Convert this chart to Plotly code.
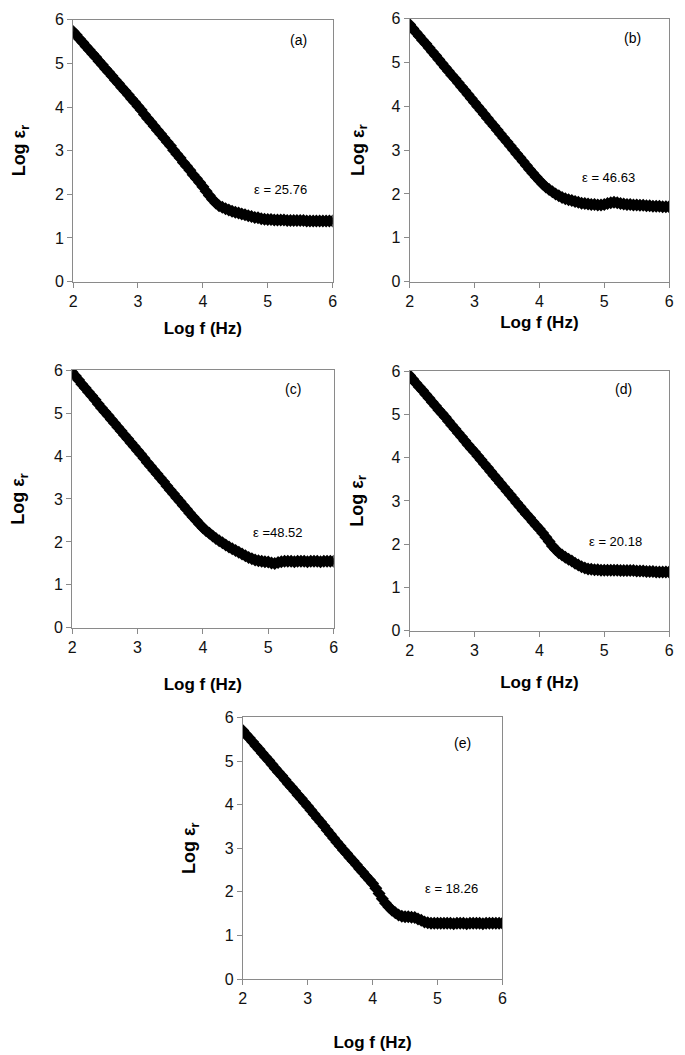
import plotly.graph_objects as go

W, H = 685, 1055

log_f = [round(2 + 0.05 * i, 2) for i in range(81)]

eps_a = [5.73, 5.65, 5.56, 5.48, 5.39, 5.31, 5.22, 5.14, 5.05, 4.97,
         4.88, 4.80, 4.71, 4.62, 4.54, 4.45, 4.37, 4.28, 4.19, 4.11,
         4.02, 3.93, 3.83, 3.74, 3.65, 3.56, 3.47, 3.38, 3.29, 3.20,
         3.11, 3.01, 2.92, 2.83, 2.73, 2.64, 2.55, 2.45, 2.36, 2.27,
         2.17, 2.07, 1.97, 1.88, 1.80, 1.74, 1.70, 1.67, 1.64, 1.61,
         1.59, 1.57, 1.55, 1.53, 1.51, 1.49, 1.47, 1.46, 1.44, 1.43,
         1.42, 1.42, 1.41, 1.41, 1.41, 1.41, 1.40, 1.40, 1.40, 1.40,
         1.40, 1.40, 1.39, 1.39, 1.39, 1.39, 1.39, 1.39, 1.39, 1.39, 1.39]

eps_b = [5.87, 5.78, 5.69, 5.60, 5.51, 5.43, 5.34, 5.25, 5.16, 5.07,
         4.98, 4.89, 4.80, 4.71, 4.63, 4.54, 4.45, 4.36, 4.27, 4.18,
         4.09, 4.00, 3.91, 3.82, 3.73, 3.64, 3.55, 3.46, 3.37, 3.28,
         3.19, 3.10, 3.01, 2.92, 2.83, 2.74, 2.65, 2.56, 2.47, 2.39,
         2.31, 2.23, 2.16, 2.10, 2.05, 2.00, 1.96, 1.92, 1.89, 1.87,
         1.85, 1.83, 1.81, 1.79, 1.78, 1.77, 1.76, 1.76, 1.75, 1.75,
         1.76, 1.78, 1.80, 1.81, 1.80, 1.78, 1.77, 1.76, 1.76, 1.75,
         1.75, 1.74, 1.74, 1.73, 1.73, 1.72, 1.72, 1.72, 1.71, 1.71, 1.71]

eps_c = [5.95, 5.86, 5.77, 5.67, 5.58, 5.49, 5.40, 5.31, 5.21, 5.12,
         5.03, 4.94, 4.85, 4.76, 4.67, 4.58, 4.49, 4.40, 4.31, 4.22,
         4.13, 4.04, 3.95, 3.85, 3.76, 3.67, 3.58, 3.49, 3.40, 3.30,
         3.21, 3.12, 3.03, 2.94, 2.85, 2.76, 2.67, 2.58, 2.50, 2.41,
         2.33, 2.26, 2.20, 2.14, 2.08, 2.03, 1.98, 1.93, 1.88, 1.84,
         1.80, 1.76, 1.72, 1.68, 1.64, 1.61, 1.58, 1.56, 1.55, 1.54,
         1.53, 1.51, 1.50, 1.52, 1.54, 1.55, 1.55, 1.55, 1.54, 1.55,
         1.55, 1.55, 1.54, 1.55, 1.55, 1.55, 1.54, 1.55, 1.55, 1.55, 1.55]

eps_d = [5.90, 5.81, 5.72, 5.63, 5.55, 5.46, 5.37, 5.28, 5.19, 5.10,
         5.02, 4.93, 4.84, 4.75, 4.66, 4.57, 4.48, 4.39, 4.30, 4.21,
         4.13, 4.04, 3.95, 3.86, 3.77, 3.68, 3.59, 3.50, 3.41, 3.32,
         3.23, 3.14, 3.05, 2.96, 2.87, 2.78, 2.69, 2.61, 2.52, 2.43,
         2.35, 2.26, 2.16, 2.06, 1.96, 1.88, 1.80, 1.75, 1.70, 1.65,
         1.61, 1.56, 1.52, 1.48, 1.45, 1.43, 1.42, 1.41, 1.41, 1.40,
         1.40, 1.40, 1.40, 1.40, 1.40, 1.39, 1.39, 1.39, 1.39, 1.39,
         1.38, 1.38, 1.38, 1.37, 1.37, 1.37, 1.36, 1.36, 1.36, 1.36, 1.36]

eps_e = [5.70, 5.61, 5.53, 5.44, 5.35, 5.27, 5.18, 5.09, 5.01, 4.92,
         4.83, 4.74, 4.66, 4.57, 4.48, 4.40, 4.31, 4.22, 4.14, 4.05,
         3.96, 3.87, 3.78, 3.69, 3.60, 3.51, 3.41, 3.32, 3.23, 3.14,
         3.05, 2.96, 2.88, 2.79, 2.71, 2.62, 2.53, 2.45, 2.36, 2.28,
         2.19, 2.08, 1.96, 1.84, 1.74, 1.65, 1.58, 1.52, 1.47, 1.44,
         1.43, 1.43, 1.42, 1.41, 1.38, 1.35, 1.31, 1.29, 1.28, 1.28,
         1.28, 1.28, 1.28, 1.28, 1.28, 1.27, 1.28, 1.28, 1.28, 1.27,
         1.28, 1.28, 1.28, 1.28, 1.27, 1.28, 1.28, 1.28, 1.28, 1.28, 1.28]

panel_labels = ["(a)", "(b)", "(c)", "(d)", "(e)"]
eps_labels = ["\u03b5 = 25.76", "\u03b5 = 46.63", "\u03b5 =48.52", "\u03b5 = 20.18", "\u03b5 = 18.26"]
x_ticks = [2, 3, 4, 5, 6]
y_ticks = [0, 1, 2, 3, 4, 5, 6]

series = [eps_a, eps_b, eps_c, eps_d, eps_e]

# pixel boxes of plot areas: (left, right, top, bottom)
boxes = [(70, 333, 12, 278), (411, 674, 11, 278), (69, 334, 368, 630),
         (411, 674, 369, 633), (242, 505, 721, 987)]
label_pos = [(5.47, 5.53), (5.44, 5.57), (5.38, 5.56), (5.30, 5.59), (5.39, 5.41)]
eps_pos = [(5.19, 2.10), (5.07, 2.38), (5.15, 2.22), (5.18, 2.07), (5.21, 2.08)]
x_standoff = [13, 7, 23, 18, 29]
y_standoff = [24, 22, 24, 23, 24]

FONT = "Liberation Sans, Arial, sans-serif"
AX_COL = "#8a8a8a"

fig = go.Figure()
layout = dict(width=W, height=H, margin=dict(l=0, r=0, t=0, b=0),
              paper_bgcolor="white", plot_bgcolor="white", showlegend=False,
              font=dict(family=FONT, color="black"))
annotations = []
for i, ys in enumerate(series):
    n = "" if i == 0 else str(i + 1)
    xa, ya = "x" + n, "y" + n
    fig.add_trace(go.Scatter(x=log_f, y=ys, mode="markers", xaxis=xa, yaxis=ya,
                             marker=dict(symbol="diamond", size=10, color="black",
                                         line=dict(width=0))))
    l, r, t, b = boxes[i]
    common = dict(showgrid=False, zeroline=False, showline=True, mirror=True,
                  linecolor=AX_COL, linewidth=1, ticks="outside", tickcolor=AX_COL,
                  ticklen=5, tickfont=dict(size=16, family=FONT, color="#111111"))
    layout["xaxis" + n] = dict(common, domain=[l / W, r / W], range=[2, 6],
                               tickvals=x_ticks, anchor=ya,
                               title=dict(text="<b>Log f (Hz)</b>", font=dict(size=17, family=FONT),
                                          standoff=x_standoff[i]))
    layout["yaxis" + n] = dict(common, domain=[1 - b / H, 1 - t / H], range=[0, 6],
                               tickvals=y_ticks, anchor=xa,
                               title=dict(text="<b>Log \u03b5<sub>r</sub></b>", font=dict(size=18, family=FONT),
                                          standoff=y_standoff[i]))
    annotations.append(dict(x=label_pos[i][0], y=label_pos[i][1], xref=xa, yref=ya,
                            text=panel_labels[i], showarrow=False,
                            font=dict(size=14, family=FONT, color="black")))
    annotations.append(dict(x=eps_pos[i][0], y=eps_pos[i][1], xref=xa, yref=ya,
                            text=eps_labels[i], showarrow=False,
                            font=dict(size=13, family=FONT, color="black")))

layout["annotations"] = annotations
fig.update_layout(**layout)
fig.write_html("out.html", config={"displayModeBar": False},
               post_script="document.body.style.margin='0';document.body.style.overflow='hidden';")
